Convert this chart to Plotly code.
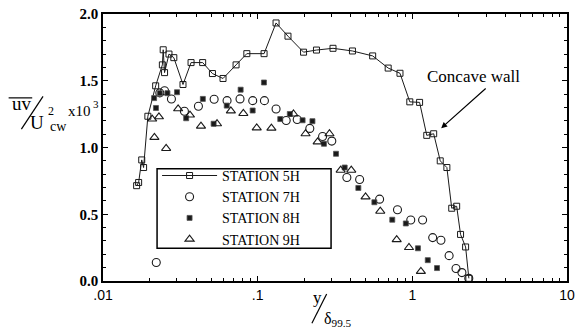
import plotly.graph_objects as go

# Reynolds shear stress profiles, -uv / U_cw^2 (x10^3) vs y / delta_99.5
st5_x = [0.0165, 0.0170, 0.0178, 0.0183, 0.0195, 0.0219, 0.0242, 0.0245, 0.0250, 0.0267,
         0.0287, 0.0329, 0.0371, 0.0441, 0.0510, 0.0597, 0.0725, 0.0851, 0.110, 0.1315,
         0.157, 0.198, 0.240, 0.307, 0.410, 0.554, 0.698, 0.832, 0.963, 1.114,
         1.240, 1.374, 1.515, 1.672, 1.798, 1.935, 2.05, 2.21, 2.32]
st5_y = [0.714, 0.738, 0.907, 0.850, 1.234, 1.462, 1.619, 1.732, 1.561, 1.700,
         1.673, 1.472, 1.636, 1.636, 1.554, 1.517, 1.619, 1.703, 1.703, 1.933,
         1.834, 1.714, 1.730, 1.743, 1.723, 1.686, 1.595, 1.556, 1.342, 1.338,
         1.091, 1.103, 0.900, 0.850, 0.545, 0.560, 0.349, 0.255, 0.020]

st7_x = [0.0221, 0.0233, 0.0250, 0.0277, 0.0336, 0.0414, 0.0523, 0.0634, 0.0769, 0.0929,
         0.1106, 0.1315, 0.1529, 0.1802, 0.2173, 0.2628, 0.3015, 0.3773, 0.4563, 0.6143,
         0.8017, 0.9768, 1.165, 1.354, 1.531, 1.729, 1.916, 2.092, 2.317]
st7_y = [0.139, 1.409, 1.425, 1.363, 1.271, 1.309, 1.361, 1.351, 1.364, 1.351,
         1.351, 1.288, 1.202, 1.210, 1.143, 1.082, 1.048, 0.775, 0.760, 0.613,
         0.534, 0.457, 0.457, 0.325, 0.305, 0.190, 0.094, 0.063, 0.020]

st8_x = [0.0214, 0.0220, 0.0233, 0.0261, 0.0301, 0.0345, 0.0442, 0.0519, 0.0631, 0.0776,
         0.0928, 0.1098, 0.1400, 0.1614, 0.1952, 0.2260, 0.2682, 0.3211, 0.3652, 0.4477,
         0.5684, 0.7419, 0.9078, 1.087, 1.258, 1.444]
st8_y = [1.370, 1.296, 1.407, 1.407, 1.414, 1.219, 1.364, 1.178, 1.314, 1.433,
         1.277, 1.487, 1.213, 1.251, 1.204, 1.197, 1.028, 0.953, 0.850, 0.697,
         0.590, 0.459, 0.431, 0.245, 0.156, 0.097]

st9_x = [0.0208, 0.0215, 0.0230, 0.0256, 0.0306, 0.0365, 0.0430, 0.0546, 0.0671, 0.0808,
         0.0986, 0.1227, 0.1704, 0.2040, 0.2442, 0.2912, 0.3440, 0.4029, 0.4983, 0.6205,
         0.7922, 0.9515, 1.1357]
st9_y = [1.213, 1.076, 1.230, 0.993, 1.290, 1.243, 1.160, 1.178, 1.274, 1.255,
         1.147, 1.145, 1.251, 1.103, 1.042, 1.103, 0.830, 0.830, 0.630, 0.523,
         0.310, 0.251, 0.072]

x_tickvals = [0.01, 0.1, 1, 10]
x_ticktext = [".01", ".1", "1", "10"]
y_tickvals = [0.0, 0.5, 1.0, 1.5, 2.0]
y_ticktext = ["0.0", "0.5", "1.0", "1.5", "2.0"]

W, H = 581, 330
L, R, T, B = 103, 6, 12, 49
PW, PH = W - L - R, H - T - B

def px(x):
    return (x - L) / PW

def py(y):
    return (H - B - y) / PH

SERIF = "Liberation Serif"
SANS = "Liberation Sans"
INK = "#1a1a1a"

fig = go.Figure()
fig.add_trace(go.Scatter(
    x=st5_x, y=st5_y, mode="lines+markers", name="STATION 5H",
    line=dict(color=INK, width=1),
    marker=dict(symbol="square-open", size=6, color=INK, line=dict(width=1, color=INK)),
))
fig.add_trace(go.Scatter(
    x=st7_x, y=st7_y, mode="markers", name="STATION 7H",
    marker=dict(symbol="circle-open", size=8, color=INK, line=dict(width=1.1, color=INK)),
))
fig.add_trace(go.Scatter(
    x=st8_x, y=st8_y, mode="markers", name="STATION 8H",
    marker=dict(symbol="square", size=5, color=INK, line=dict(width=0.8, color="#555")),
))
fig.add_trace(go.Scatter(
    x=st9_x, y=st9_y, mode="markers", name="STATION 9H",
    marker=dict(symbol="triangle-up-open", size=8, color=INK, line=dict(width=1.1, color=INK)),
))

axis_common = dict(
    showline=True, linecolor="black", linewidth=1.5, mirror="ticks",
    ticks="inside", tickcolor="black", ticklen=5, tickwidth=1,
    showgrid=False, zeroline=False,
)

fig.update_xaxes(
    type="log", range=[-2, 1],
    tickmode="array", tickvals=x_tickvals, ticktext=x_ticktext,
    tickfont=dict(family=SANS, size=14, color="black"),
    minor=dict(ticks="inside", ticklen=3, tickcolor="black", dtick="D1"),
    **axis_common,
)
fig.update_yaxes(
    range=[0, 2.0],
    tickmode="array", tickvals=y_tickvals, ticktext=y_ticktext,
    tickfont=dict(family=SERIF, size=15, color="black", weight="bold"),
    minor=dict(ticks="inside", ticklen=3, tickcolor="black", dtick=0.1),
    **axis_common,
)

ann = []

def text(x, y, s, size, anchor="center", **kw):
    ann.append(dict(x=px(x), y=py(y), xref="paper", yref="paper", text=s,
                    showarrow=False, xanchor=anchor, yanchor="middle",
                    font=dict(family=SERIF, size=size, color="black"), **kw))

# y-axis title: -uv (overbar) / U_cw^2  x10^3
text(21, 102, "uv", 19)
text(35.5, 121, "U", 19)
text(50, 110, "2", 12)
text(57.5, 125, "cw", 14)
text(79, 110, "x10", 15)
text(95.5, 103, "3", 11)

# x-axis title: y / delta_99.5
text(321, 298, "y", 17)
text(326, 320, "δ<sub>99.5</sub>", 16, anchor="left")

# curve annotation
text(480, 75, "Concave wall", 17)
ann.append(dict(x=px(447), y=py(127), xref="paper", yref="paper", text="",
                showarrow=True, ax=46, ay=-41, axref="pixel", ayref="pixel",
                arrowhead=2, arrowsize=1, arrowwidth=1.2, arrowcolor="black"))

shapes = [
    # overbar of -uv
    dict(type="line", xref="paper", yref="paper", x0=px(7), y0=py(96.5), x1=px(31), y1=py(96.5),
         line=dict(color="black", width=1.2)),
    # fraction slashes
    dict(type="line", xref="paper", yref="paper", x0=px(20), y0=py(128), x1=px(42), y1=py(95),
         line=dict(color="black", width=1.2)),
    dict(type="line", xref="paper", yref="paper", x0=px(315.5), y0=py(323.5), x1=px(330.5), y1=py(294),
         line=dict(color="black", width=1.2)),
    # legend frame
    dict(type="rect", xref="paper", yref="paper", layer="above",
         x0=px(158), y0=py(168), x1=px(335), y1=py(248),
         line=dict(color="black", width=1.5), fillcolor="rgba(0,0,0,0)"),
]

fig.update_layout(
    width=W, height=H,
    margin=dict(l=L, r=R, t=T, b=B, pad=0),
    paper_bgcolor="white", plot_bgcolor="white",
    font=dict(family=SERIF),
    showlegend=True,
    legend=dict(
        x=px(158), y=py(159), xanchor="left", yanchor="top",
        xref="paper", yref="paper",
        bgcolor="rgba(0,0,0,0)", borderwidth=0,
        font=dict(family=SERIF, size=14, color="black"),
        itemwidth=55, tracegroupgap=0,
    ),
    annotations=ann, shapes=shapes,
)

fig.write_html("out.html")
